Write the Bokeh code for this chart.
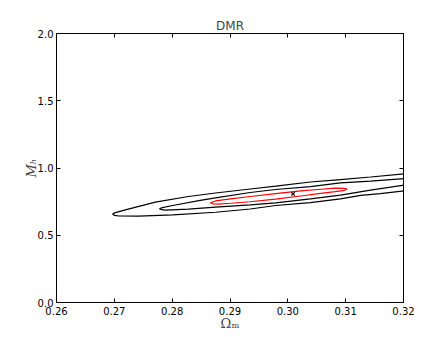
from bokeh.plotting import figure
from bokeh.models import Range1d, FixedTicker, LinearAxis, CustomJSTickFormatter
from bokeh.embed import file_html
from bokeh.resources import INLINE

# ---- data ----
title_text = "DMR"
x_ticks = [0.26, 0.27, 0.28, 0.29, 0.30, 0.31, 0.32]
x_tick_labels = ["0.26", "0.27", "0.28", "0.29", "0.30", "0.31", "0.32"]
y_ticks = [0.0, 0.5, 1.0, 1.5, 2.0]
y_tick_labels = ["0.0", "0.5", "1.0", "1.5", "2.0"]

outer_x = [0.3202, 0.3143, 0.3091, 0.3039, 0.2979, 0.2935, 0.2875, 0.2828, 0.2771, 0.2719,
           0.2702, 0.2697, 0.2700, 0.2708, 0.2742, 0.2801, 0.2875, 0.2935, 0.2979, 0.3039,
           0.3091, 0.3126, 0.3160, 0.3202]
outer_y = [0.957, 0.933, 0.914, 0.896, 0.865, 0.844, 0.814, 0.788, 0.746, 0.689,
           0.668, 0.658, 0.648, 0.643, 0.642, 0.652, 0.671, 0.695, 0.721, 0.743,
           0.771, 0.796, 0.810, 0.830]

middle_x = [0.3202, 0.3143, 0.3091, 0.3039, 0.2979, 0.2935, 0.2875, 0.2846, 0.2801, 0.2783,
            0.2778, 0.2782, 0.2788, 0.2828, 0.2875, 0.2935, 0.2979, 0.3039, 0.3091, 0.3143,
            0.3202]
middle_y = [0.922, 0.903, 0.890, 0.862, 0.840, 0.818, 0.778, 0.758, 0.721, 0.705,
            0.697, 0.690, 0.687, 0.694, 0.709, 0.726, 0.741, 0.770, 0.799, 0.836,
            0.874]

inner_x = [0.2866, 0.2875, 0.2901, 0.2935, 0.2979, 0.3022, 0.3057, 0.3082, 0.3096, 0.3103,
           0.3098, 0.3082, 0.3057, 0.3022, 0.2979, 0.2935, 0.2901, 0.2880, 0.2870, 0.2866]
inner_y = [0.741, 0.755, 0.771, 0.788, 0.810, 0.830, 0.842, 0.850, 0.849, 0.844,
           0.834, 0.825, 0.812, 0.792, 0.768, 0.749, 0.738, 0.732, 0.734, 0.741]

best_x = [0.3009]
best_y = [0.808]

# ---- figure ----
p = figure(width=440, height=334, output_backend="svg", toolbar_location=None,
           x_range=Range1d(0.26, 0.32), y_range=Range1d(0.0, 2.0),
           min_border_left=56, min_border_right=37, min_border_top=33, min_border_bottom=32)
p.title.text = title_text
p.title.align = "center"
p.title.text_font = "DejaVu Sans"
p.title.text_font_style = "normal"
p.title.text_font_size = "12px"
p.title.standoff = 2
p.xgrid.visible = False
p.ygrid.visible = False
p.outline_line_color = "black"
p.outline_line_width = 1
p.background_fill_color = "white"
p.border_fill_color = "white"

def fmt(labels, ticks):
    return CustomJSTickFormatter(args=dict(lbls=labels, tks=ticks), code="""
        for (let i = 0; i < tks.length; i++) {
            if (Math.abs(tks[i] - tick) < 1e-9) return lbls[i];
        }
        return '';
    """)

def style_axis(ax, ticks, labels):
    ax.ticker = FixedTicker(ticks=ticks)
    ax.formatter = fmt(labels, ticks)
    ax.major_tick_in = 4
    ax.major_tick_out = 0
    ax.minor_tick_line_color = None
    ax.axis_line_color = "black"
    ax.major_tick_line_color = "black"
    ax.major_label_text_font = "DejaVu Sans"
    ax.major_label_text_font_size = "10px"
    ax.major_label_text_color = "black"
    ax.major_label_standoff = 4

xa = p.xaxis[0]
ya = p.yaxis[0]
style_axis(xa, x_ticks, x_tick_labels)
style_axis(ya, y_ticks, y_tick_labels)
ya.major_label_standoff = 3
xa.axis_label = "Ωₘ"
ya.axis_label = "Mₕ"
for ax in (xa, ya):
    ax.axis_label_text_font = "DejaVu Serif"
    ax.axis_label_text_font_style = "italic"
    ax.axis_label_text_font_size = "13px"
xa.axis_label_text_font_style = "normal"
xa.axis_label_standoff = -2
ya.axis_label_standoff = -4

# top and right frame ticks, without labels
top_ax = LinearAxis()
right_ax = LinearAxis()
empty_x = ["" for _ in x_ticks]
empty_y = ["" for _ in y_ticks]
style_axis(top_ax, x_ticks, empty_x)
style_axis(right_ax, y_ticks, empty_y)
top_ax.major_label_standoff = 0
right_ax.major_label_standoff = 0
p.add_layout(top_ax, "above")
p.add_layout(right_ax, "right")

# ---- contours ----
p.line(outer_x, outer_y, line_color="black", line_width=1.2)
p.line(middle_x, middle_y, line_color="black", line_width=1.2)
p.line(inner_x, inner_y, line_color="red", line_width=1.2)
p.scatter(best_x, best_y, marker="x", size=5, line_color="black", line_width=1.2)

open("out.html", "w").write(file_html(p, INLINE))
